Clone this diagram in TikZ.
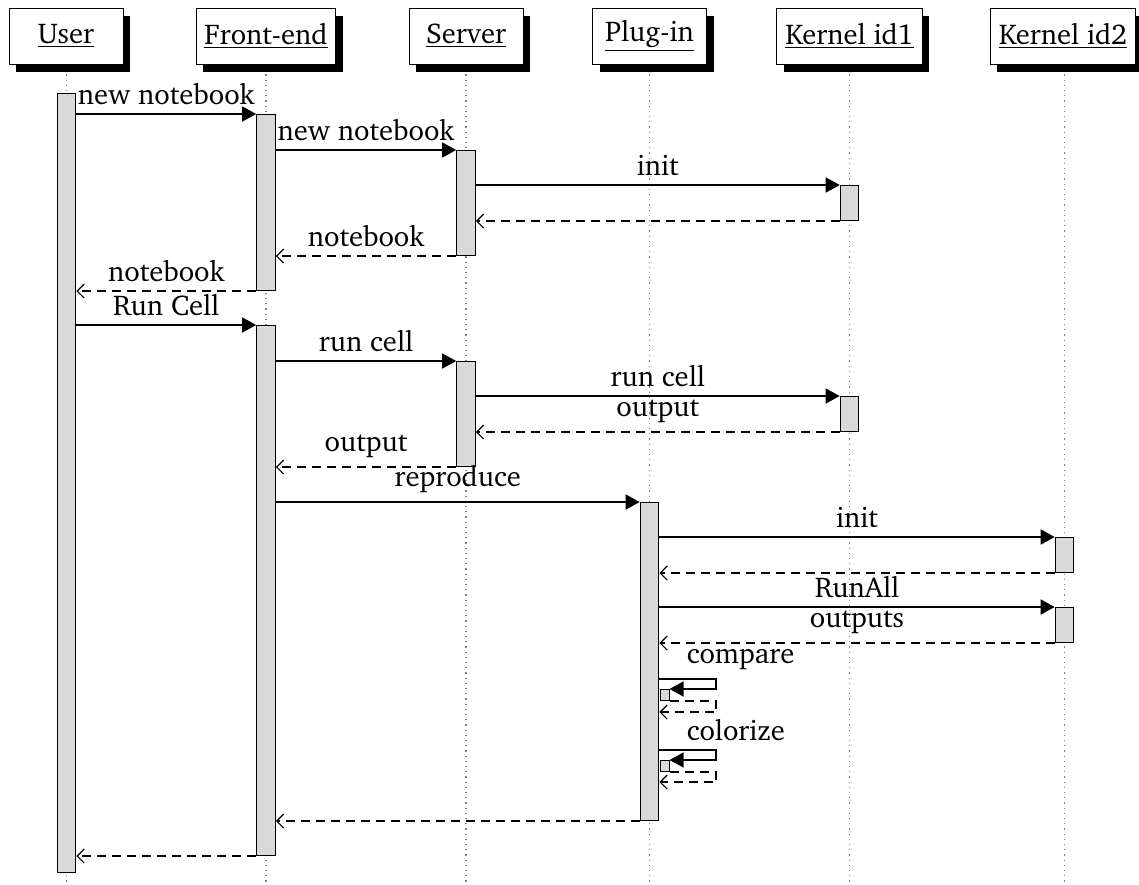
\documentclass[tikz,border=0pt]{standalone}
\usepackage[T1]{fontenc}
\usepackage{charter}
\usetikzlibrary{arrows.meta,shadows}

\tikzset{
  thread/.style={draw, fill=white, line width=0.5pt, minimum width=57pt, minimum height=28pt,
    inner xsep=4.2pt, drop shadow={fill=black, opacity=1, shadow xshift=3.5pt, shadow yshift=-4pt}},
  bar/.style={draw, fill=black!15, line width=0.5pt, minimum width=9.3pt, inner sep=0pt, anchor=north},
  selfbar/.style={bar, minimum width=4.5pt, minimum height=5.5pt},
  life/.style={dotted, gray, line width=0.6pt},
  call/.style={-{Triangle[length=7pt,width=7.5pt]}, line width=0.7pt},
  ret/.style={-{Straight Barb[length=3.5pt,width=7pt]}, dash pattern=on 4.5pt off 3pt, line width=0.6pt},
  msg/.style={above, inner sep=4.4pt},
  selfmsg/.style={anchor=south west, inner sep=4.4pt, xshift=9pt},
}

\begin{document}
\begin{tikzpicture}[x=0.5pt, y=-0.5pt, font=\fontsize{14.3}{17}\selectfont]
   \useasboundingbox (0,0) rectangle (1139,884);
   % lifelines
   \draw[life] (66.5,64) -- (66.5,884);
   \draw[life] (266,64) -- (266,884);
   \draw[life] (466,64) -- (466,884);
   \draw[life] (649.5,64) -- (649.5,884);
   \draw[life] (849.5,64) -- (849.5,884);
   \draw[life] (1064.5,64) -- (1064.5,884);
   % threads
   \node[thread] (user)    at (66,36)   {\underline{User}};
   \node[thread] (front)   at (266,36)  {\underline{Front-end}};
   \node[thread] (server)  at (466,36)  {\underline{Server}};
   \node[thread] (plugin)  at (649.5,36) {\underline{Plug-in}};
   \node[thread] (kernela) at (849.5,36) {\underline{Kernel id1}};
   \node[thread] (kernelb) at (1063,36) {\underline{Kernel id2}};
   % activations
   \node[bar, minimum height=389.5pt] (u1) at (66.5,93) {};
   \node[bar, minimum height=88pt]    (f1) at (266,114) {};
   \node[bar, minimum height=265pt]   (f2) at (266,325) {};
   \node[bar, minimum height=52.5pt]  (s1) at (466,150) {};
   \node[bar, minimum height=52.5pt]  (s2) at (466,361) {};
   \node[bar, minimum height=17.5pt]  (k1) at (849.5,185) {};
   \node[bar, minimum height=17.5pt]  (k2) at (849.5,396) {};
   \node[bar, minimum height=159pt]   (p1) at (649.5,502) {};
   \node[bar, minimum height=17.5pt]  (q1) at (1064.5,537) {};
   \node[bar, minimum height=17.5pt]  (q2) at (1064.5,607) {};
   \node[selfbar] (c1) at (664.5,689) {};
   \node[selfbar] (c2) at (664.5,760) {};
   % new notebook
   \draw[call] (u1.east |- f1.north) -- node[msg]{new notebook} (f1.north west);
   \draw[call] (f1.east |- s1.north) -- node[msg]{new notebook} (s1.north west);
   \draw[call] (s1.east |- k1.north) -- node[msg]{init} (k1.north west);
   \draw[ret] (k1.south west) -- (s1.east |- k1.south);
   \draw[ret] (s1.south west) -- node[msg]{notebook} (f1.east |- s1.south);
   \draw[ret] (f1.south west) -- node[msg]{notebook} (u1.east |- f1.south);
   % run cell
   \draw[call] (u1.east |- f2.north) -- node[msg]{Run Cell} (f2.north west);
   \draw[call] (f2.east |- s2.north) -- node[msg]{run cell} (s2.north west);
   \draw[call] (s2.east |- k2.north) -- node[msg]{run cell} (k2.north west);
   \draw[ret] (k2.south west) -- node[msg]{output} (s2.east |- k2.south);
   \draw[ret] (s2.south west) -- node[msg]{output} (f2.east |- s2.south);
   % reproduce
   \draw[call] (f2.east |- p1.north) -- node[msg]{reproduce} (p1.north west);
   \draw[call] (p1.east |- q1.north) -- node[msg]{init} (q1.north west);
   \draw[ret] (q1.south west) -- (p1.east |- q1.south);
   \draw[call] (p1.east |- q2.north) -- node[msg]{RunAll} (q2.north west);
   \draw[ret] (q2.south west) -- node[msg]{outputs} (p1.east |- q2.south);
   % self calls
   \coordinate (cmp)  at (716,679);
   \coordinate (cmpb) at (716,712);
   \draw[call] (p1.east |- cmp) node[selfmsg]{compare} -- (cmp) -- (cmp |- c1.north) -- (c1.north east);
   \draw[ret] (c1.south east) -| (cmpb) -- (p1.east |- cmpb);
   \coordinate (col)  at (716,750);
   \coordinate (colb) at (716,782);
   \draw[call] (p1.east |- col) node[selfmsg]{colorize} -- (col) -- (col |- c2.north) -- (c2.north east);
   \draw[ret] (c2.south east) -| (colb) -- (p1.east |- colb);
   % back
   \draw[ret] (p1.south west) -- (f2.east |- p1.south);
   \draw[ret] (f2.south west) -- (u1.east |- f2.south);
\end{tikzpicture}
\end{document}
